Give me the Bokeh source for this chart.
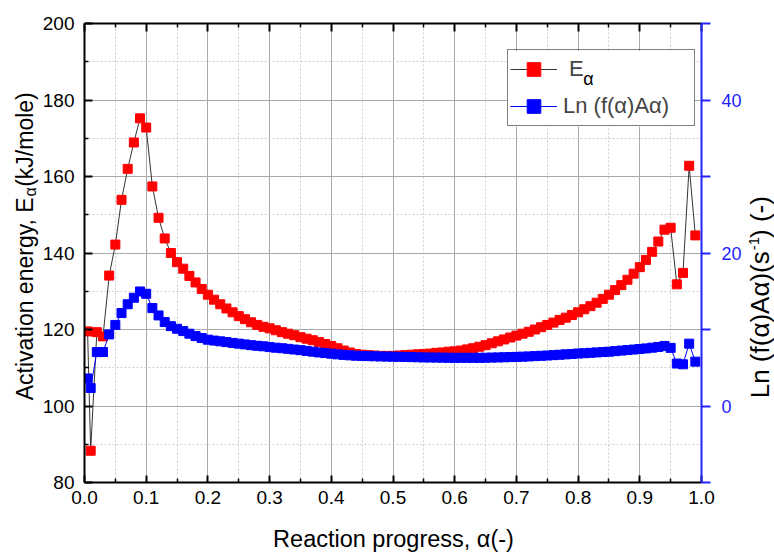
from math import pi
from bokeh.plotting import figure
from bokeh.layouts import row, column
from bokeh.models import (Range1d, LinearAxis, FixedTicker, PrintfTickFormatter,
                          Label, Legend, LegendItem, BoxAnnotation)
from bokeh.embed import file_html
from bokeh.resources import INLINE

FONT = "Liberation Sans"

# ---------------- data ----------------
alpha = [0.005, 0.01, 0.02, 0.03, 0.04, 0.05, 0.06, 0.07, 0.08, 0.09,
         0.10, 0.11, 0.12, 0.13, 0.14, 0.15, 0.16, 0.17, 0.18, 0.19,
         0.20, 0.21, 0.22, 0.23, 0.24, 0.25, 0.26, 0.27, 0.28, 0.29,
         0.30, 0.31, 0.32, 0.33, 0.34, 0.35, 0.36, 0.37, 0.38, 0.39,
         0.40, 0.41, 0.42, 0.43, 0.44, 0.45, 0.46, 0.47, 0.48, 0.49,
         0.50, 0.51, 0.52, 0.53, 0.54, 0.55, 0.56, 0.57, 0.58, 0.59,
         0.60, 0.61, 0.62, 0.63, 0.64, 0.65, 0.66, 0.67, 0.68, 0.69,
         0.70, 0.71, 0.72, 0.73, 0.74, 0.75, 0.76, 0.77, 0.78, 0.79,
         0.80, 0.81, 0.82, 0.83, 0.84, 0.85, 0.86, 0.87, 0.88, 0.89,
         0.90, 0.91, 0.92, 0.93, 0.94, 0.95, 0.96, 0.97, 0.98, 0.99]

e_alpha = [119.5, 88.3, 119.3, 118.2, 134.1, 142.2, 153.9, 162.0, 168.9, 175.2,
           172.8, 157.4, 149.2, 143.8, 140.0, 137.6, 135.9, 134.0, 132.3, 130.6,
           129.1, 127.8, 126.6, 125.5, 124.5, 123.5, 122.7, 121.9, 121.2, 120.7,
           120.3, 119.8, 119.3, 118.9, 118.5, 118.0, 117.6, 117.2, 116.7, 116.2,
           115.7, 115.1, 114.5, 114.0, 113.6, 113.4, 113.3, 113.2, 113.1, 113.1,
           113.1, 113.2, 113.3, 113.4, 113.5, 113.6, 113.7, 113.9, 114.0, 114.2,
           114.3, 114.5, 114.8, 115.1, 115.5, 115.9, 116.4, 116.9, 117.4, 117.9,
           118.4, 118.9, 119.4, 120.0, 120.6, 121.2, 121.8, 122.5, 123.1, 123.8,
           124.5, 125.3, 126.1, 127.0, 128.0, 129.1, 130.3, 131.6, 133.0, 134.6,
           136.3, 138.2, 140.3, 143.0, 146.1, 146.6, 131.8, 134.8, 162.8, 144.6]

ln_fA = [3.6, 2.35, 7.05, 7.05, 9.36, 10.6, 12.15, 13.3, 14.15, 14.97,
         14.67, 12.8, 11.84, 10.97, 10.44, 10.1, 9.79, 9.45, 9.14, 8.88,
         8.67, 8.55, 8.45, 8.35, 8.25, 8.15, 8.05, 7.95, 7.87, 7.8,
         7.7, 7.62, 7.55, 7.47, 7.38, 7.3, 7.2, 7.1, 7.0, 6.92,
         6.84, 6.75, 6.68, 6.62, 6.58, 6.55, 6.52, 6.5, 6.48, 6.46,
         6.45, 6.43, 6.41, 6.39, 6.37, 6.35, 6.34, 6.33, 6.32, 6.31,
         6.3, 6.3, 6.3, 6.3, 6.3, 6.31, 6.33, 6.35, 6.37, 6.39,
         6.42, 6.45, 6.48, 6.52, 6.56, 6.6, 6.65, 6.7, 6.75, 6.8,
         6.86, 6.9, 6.95, 7.0, 7.05, 7.1, 7.17, 7.24, 7.31, 7.38,
         7.45, 7.53, 7.62, 7.72, 7.85, 7.6, 5.55, 5.45, 8.15, 5.8]

x_major = [0.0, 0.1, 0.2, 0.3, 0.4, 0.5, 0.6, 0.7, 0.8, 0.9, 1.0]
x_minor = [0.05, 0.15, 0.25, 0.35, 0.45, 0.55, 0.65, 0.75, 0.85, 0.95]
y_major = [80, 100, 120, 140, 160, 180, 200]
y_minor = [90, 110, 130, 150, 170, 190]
r_major = [0, 20, 40]
r_minor = [-10, 10, 30, 50]

BLUE_AX = "#2222ff"
H = 520          # height of the row holding the plot
LW, RW = 39, 30  # widths of the side title strips
W = 774

# ---------------- main figure ----------------
p = figure(width=W - LW - RW, height=H, output_backend="svg", toolbar_location=None,
           x_range=Range1d(0, 1), y_range=Range1d(80, 200),
           min_border_left=45, min_border_right=42,
           min_border_top=23, min_border_bottom=38)
p.extra_y_ranges = {"ln": Range1d(-10, 50)}
p.outline_line_color = None
p.background_fill_color = "white"
p.border_fill_color = "white"

x_ticker = FixedTicker(ticks=x_major, minor_ticks=x_minor)
y_ticker = FixedTicker(ticks=y_major, minor_ticks=y_minor)
r_ticker = FixedTicker(ticks=r_major, minor_ticks=r_minor)

p.xgrid.ticker = x_ticker
p.ygrid.ticker = y_ticker
for g in (p.xgrid, p.ygrid):
    g.grid_line_color = "#a9a9a9"
    g.grid_line_width = 1
    g.minor_grid_line_color = "#cccccc"
    g.minor_grid_line_dash = "2 2"
    g.minor_grid_line_width = 1

# bottom axis
bx = p.xaxis[0]
bx.ticker = x_ticker
bx.formatter = PrintfTickFormatter(format="%.1f")
bx.axis_line_width = 2
bx.major_tick_in = 7
bx.major_tick_out = 0
bx.minor_tick_in = 4
bx.minor_tick_out = 0
bx.major_tick_line_width = 2
bx.minor_tick_line_width = 1.5
bx.major_label_text_font = FONT
bx.major_label_text_font_size = "19px"
bx.major_label_text_color = "black"
bx.major_label_standoff = 8

# left axis
ly = p.yaxis[0]
ly.ticker = y_ticker
ly.axis_line_width = 2
ly.major_tick_in = 8
ly.major_tick_out = 0
ly.minor_tick_in = 4
ly.minor_tick_out = 0
ly.major_tick_line_width = 2
ly.minor_tick_line_width = 1.5
ly.major_label_text_font = FONT
ly.major_label_text_font_size = "19px"
ly.major_label_text_color = "black"
ly.major_label_standoff = 10

# top axis (ticks only)
tx = LinearAxis(ticker=x_ticker, axis_line_width=2,
                major_tick_in=8, major_tick_out=0,
                minor_tick_in=4, minor_tick_out=0,
                major_tick_line_width=2, minor_tick_line_width=1.5,
                major_label_text_color=None, major_label_text_font_size="1px",
                major_label_standoff=0)
p.add_layout(tx, "above")

# right axis (blue)
ry = LinearAxis(y_range_name="ln", ticker=r_ticker,
                axis_line_color=BLUE_AX, axis_line_width=2,
                major_tick_line_color=BLUE_AX, minor_tick_line_color=BLUE_AX,
                major_tick_in=0, major_tick_out=9,
                minor_tick_in=0, minor_tick_out=9,
                major_tick_line_width=2, minor_tick_line_width=2,
                major_label_text_font=FONT, major_label_text_font_size="18px",
                major_label_text_color=BLUE_AX, major_label_standoff=11)
p.add_layout(ry, "right")

# white panel behind the legend
p.add_layout(BoxAnnotation(left=0.6845, right=0.9887, bottom=173.1, top=192.9,
                           fill_color="white", fill_alpha=1.0,
                           line_color=None, level="annotation"))

# ---------------- series ----------------
rl = p.line(alpha, e_alpha, line_color="#333333", line_width=1)
rs = p.scatter(alpha, e_alpha, marker="square", size=9,
               fill_color="#ff0000", line_color="#ff0000")
bl = p.line(alpha, ln_fA, y_range_name="ln", line_color="#0000ff", line_width=1)
bs = p.scatter(alpha, ln_fA, y_range_name="ln", marker="square", size=9,
               fill_color="#0000ff", line_color="#0000ff")

legend = Legend(items=[LegendItem(label=" E", renderers=[rl, rs]),
                       LegendItem(label="Ln (f(\u03b1)A\u03b1)", renderers=[bl, bs])],
                location=(423, 356), padding=2, spacing=3, margin=0,
                glyph_width=47, glyph_height=34, label_height=34,
                label_width=129, label_standoff=6,
                label_text_font=FONT, label_text_font_size="22px",
                border_line_color="black", border_line_width=1,
                background_fill_alpha=0.0)
p.add_layout(legend)

# subscript alpha of the legend entry "E"
p.add_layout(Label(x=0.8083, y=185.4, text="\u03b1", text_font=FONT,
                   text_font_size="18px", text_baseline="middle",
                   text_align="left", text_color="black"))


def strip(w, h):
    f = figure(width=w, height=h, output_backend="svg", toolbar_location=None,
               x_range=Range1d(0, w), y_range=Range1d(h, 0),
               x_axis_location=None, y_axis_location=None,
               min_border=0, min_border_left=0, min_border_right=0,
               min_border_top=0, min_border_bottom=0)
    f.outline_line_color = None
    f.background_fill_color = "white"
    f.border_fill_color = "white"
    f.grid.visible = False
    return f


def lab(f, x, y, text, size, align, angle=pi / 2):
    f.add_layout(Label(x=x, y=y, text=text, angle=angle, text_font=FONT,
                       text_font_size=size, text_align=align,
                       text_baseline="middle", text_color="black"))


# left title: Activation energy, E_alpha (kJ/mole)
lf = strip(LW, H)
lab(lf, 24, 197, "Activation energy, E", "23px", "right")
lab(lf, 29.5, 196, "\u03b1", "16px", "left")
lab(lf, 24, 185, "(kJ/mole)", "23px", "left")

# right title: Ln (f(alpha)A alpha)(s^-1) (-)
rf = strip(RW, H)
lab(rf, 15, 258, "Ln (f(\u03b1)A\u03b1)(s", "26px", "right")
lab(rf, 9, 257, "-1", "15px", "left")
lab(rf, 15, 243, ") (-)", "26px", "left")

# bottom title
bf = strip(W, 552 - H)
lab(bf, 393, 18, "Reaction progress, \u03b1(-)", "23.5px", "center", 0.0)

layout = column(row(lf, p, rf), bf)
open("out.html", "w").write(file_html(layout, INLINE))
